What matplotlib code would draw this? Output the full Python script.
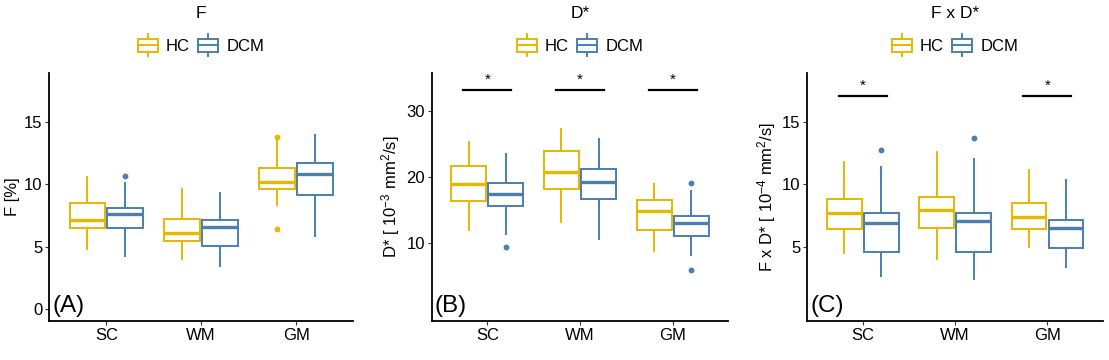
import numpy as np
import matplotlib.pyplot as plt
from matplotlib.legend_handler import HandlerBase
from matplotlib.lines import Line2D
from matplotlib.patches import Rectangle

plt.rcParams['font.family'] = ['Liberation Sans', 'DejaVu Sans']
plt.rcParams['mathtext.default'] = 'regular'

regions = ["SC", "WM", "GM"]
groups = ["HC", "DCM"]
colors = {"HC": "#E7B800", "DCM": "#4A7FB0"}

# five-number summaries per region: [whisker low, Q1, median, Q3, whisker high]
F_HC = [[4.8, 6.5, 7.1, 8.5, 10.6], [4.0, 5.5, 6.1, 7.2, 9.6], [8.3, 9.6, 10.2, 11.3, 13.5]]
F_HC_OUT = [[], [], [13.8, 6.4]]
F_DCM = [[4.3, 6.5, 7.6, 8.1, 10.1], [3.5, 5.1, 6.6, 7.1, 9.3], [5.9, 9.1, 10.8, 11.7, 13.9]]
F_DCM_OUT = [[10.65], [], []]

D_HC = [[12.0, 16.3, 18.9, 21.7, 25.3], [13.1, 18.1, 20.7, 23.9, 27.3], [8.8, 12.0, 14.8, 16.5, 18.9]]
D_HC_OUT = [[], [], []]
D_DCM = [[11.3, 15.6, 17.4, 19.0, 23.4], [10.6, 16.6, 19.2, 21.2, 25.8], [8.1, 11.1, 13.0, 14.0, 17.8]]
D_DCM_OUT = [[9.3], [], [19.1, 5.9]]

FD_HC = [[4.5, 6.4, 7.7, 8.8, 11.8], [4.0, 6.5, 7.9, 9.0, 12.6], [5.0, 6.4, 7.4, 8.5, 11.1]]
FD_HC_OUT = [[], [], []]
FD_DCM = [[2.7, 4.6, 6.9, 7.7, 11.4], [2.4, 4.6, 7.05, 7.7, 12.0], [3.4, 4.9, 6.5, 7.1, 10.3]]
FD_DCM_OUT = [[12.7], [13.7], []]

D_SIG = ["SC", "WM", "GM"]
D_SIG_Y = 33.1
FD_SIG = ["SC", "GM"]
FD_SIG_Y = 17.0


class BoxKey(HandlerBase):
    def create_artists(self, legend, orig_handle, xdescent, ydescent,
                       width, height, fontsize, trans):
        col = orig_handle.get_color()
        x0 = -xdescent
        cy = height / 2 - ydescent
        xc = x0 + width / 2
        box = Rectangle((x0, cy - 4.7), width, 9.4, facecolor='white',
                        edgecolor=col, lw=1.4, transform=trans)
        med = Line2D([x0, x0 + width], [cy, cy], color=col, lw=1.4, transform=trans)
        w1 = Line2D([xc, xc], [cy + 4.7, cy + 8.0], color=col, lw=1.4, transform=trans)
        w2 = Line2D([xc, xc], [cy - 4.7, cy - 8.0], color=col, lw=1.4, transform=trans)
        return [box, med, w1, w2]


def make_stats(five, out):
    return [dict(whislo=a, q1=b, med=c, q3=d, whishi=e, fliers=o)
            for (a, b, c, d, e), o in zip(five, out)]


def draw_panel(ax, title, tag, hc, hc_out, dcm, dcm_out, ylim, yticks, ylabel,
               sig=None, sig_y=None):
    x = np.arange(1, len(regions) + 1)
    for grp, five, out, off in [("HC", hc, hc_out, -0.2), ("DCM", dcm, dcm_out, 0.2)]:
        col = colors[grp]
        ax.bxp(make_stats(five, out), positions=x + off, widths=0.375,
               showcaps=False, patch_artist=True,
               boxprops=dict(facecolor='white', edgecolor=col, linewidth=1.4),
               whiskerprops=dict(color=col, linewidth=1.4),
               medianprops=dict(color=col, linewidth=2.4, solid_capstyle='butt'),
               flierprops=dict(marker='o', markerfacecolor=col, markeredgecolor=col,
                               markersize=3.2))
    if sig:
        for r in sig:
            xi = regions.index(r) + 1
            ax.plot([xi - 0.26, xi + 0.26], [sig_y, sig_y], color='black', lw=1.6)
            ax.annotate('*', (xi, sig_y), xytext=(0, 2.5), textcoords='offset points',
                        ha='center', va='bottom', fontsize=11)

    ax.set_xlim(0.4, 3.6)
    ax.set_ylim(*ylim)
    ax.set_xticks(x)
    ax.set_xticklabels(regions)
    ax.set_yticks(yticks)
    ax.set_ylabel(ylabel, fontsize=12, labelpad=3)
    ax.tick_params(labelsize=12, length=3, color='#333333', width=0.8, pad=2)
    for s in ['top', 'right']:
        ax.spines[s].set_visible(False)
    for s in ['left', 'bottom']:
        ax.spines[s].set_linewidth(1.3)
    ax.text(0.009, 0.036, tag, transform=ax.transAxes, fontsize=17.5,
            ha='left', va='baseline')
    ax.text(0.5, 1.237, title, transform=ax.transAxes, fontsize=12.5,
            ha='center', va='center')
    handles = [Line2D([], [], color=colors[g], label=g) for g in groups]
    ax.legend(handles=handles, handler_map={Line2D: BoxKey()}, loc='center',
              bbox_to_anchor=(0.5, 1.105), ncol=2, frameon=False, fontsize=12,
              handlelength=1.2, handletextpad=0.5, columnspacing=0.5)


fig = plt.figure(figsize=(11.09, 3.6), dpi=100)
ax1 = fig.add_axes([0.0445, 0.1092, 0.2739, 0.6889])
ax2 = fig.add_axes([0.3893, 0.1092, 0.2674, 0.6889])
ax3 = fig.add_axes([0.7280, 0.1092, 0.2664, 0.6889])

draw_panel(ax1, "F", "(A)", F_HC, F_HC_OUT, F_DCM, F_DCM_OUT,
           (-0.9, 18.9), [0, 5, 10, 15], "F [%]")
draw_panel(ax2, "D*", "(B)", D_HC, D_HC_OUT, D_DCM, D_DCM_OUT,
           (-1.8, 35.8), [10, 20, 30], "D* [ 10$^{-3}$ mm$^{2}$/s]",
           sig=D_SIG, sig_y=D_SIG_Y)
draw_panel(ax3, "F x D*", "(C)", FD_HC, FD_HC_OUT, FD_DCM, FD_DCM_OUT,
           (-0.9, 18.9), [5, 10, 15], "F x D* [ 10$^{-4}$ mm$^{2}$/s]",
           sig=FD_SIG, sig_y=FD_SIG_Y)

fig.savefig("out.png", dpi=100)
